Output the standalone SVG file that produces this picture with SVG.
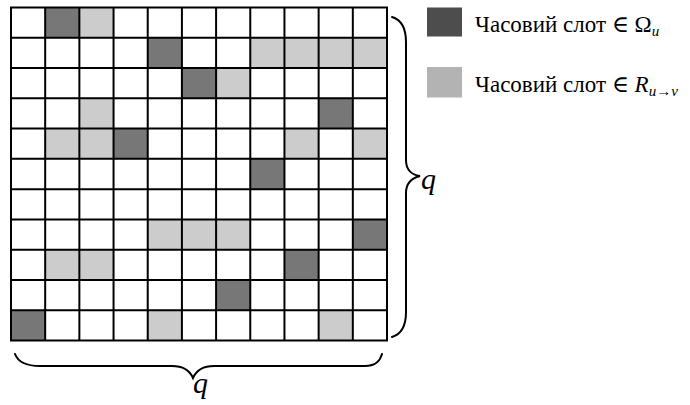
<svg xmlns="http://www.w3.org/2000/svg" width="690" height="405" viewBox="0 0 690 405">
<style>
  .d{fill:#777777}
  .l{fill:#cccccc}
  .grid{fill:none;stroke:#000;stroke-width:2}
  .brace{fill:none;stroke:#000;stroke-width:2;stroke-linecap:round}
  .t{font-family:'Liberation Serif','DejaVu Serif',serif;font-size:23px;fill:#000}
  .q{font-family:'Liberation Serif','DejaVu Serif',serif;font-size:30px;font-style:italic;fill:#000}
  .sub{font-size:15px;font-style:italic}
</style>
<rect width="690" height="405" fill="#fff"/>
<g id="grid">
  <g id="cells">
    <rect class="d" x="45.18" y="7.5" width="34.18" height="30.27"/>
    <rect class="l" x="79.36" y="7.5" width="34.18" height="30.27"/>
    <rect class="d" x="147.73" y="37.77" width="34.18" height="30.27"/>
    <rect class="l" x="250.27" y="37.77" width="136.73" height="30.27"/>
    <rect class="d" x="181.91" y="68.05" width="34.18" height="30.27"/>
    <rect class="l" x="216.09" y="68.05" width="34.18" height="30.27"/>
    <rect class="l" x="79.36" y="98.32" width="34.18" height="30.27"/>
    <rect class="d" x="318.64" y="98.32" width="34.18" height="30.27"/>
    <rect class="l" x="45.18" y="128.59" width="68.36" height="30.27"/>
    <rect class="d" x="113.55" y="128.59" width="34.18" height="30.27"/>
    <rect class="l" x="284.45" y="128.59" width="34.18" height="30.27"/>
    <rect class="l" x="352.82" y="128.59" width="34.18" height="30.27"/>
    <rect class="d" x="250.27" y="158.86" width="34.18" height="30.27"/>
    <rect class="l" x="147.73" y="219.41" width="102.54" height="30.27"/>
    <rect class="d" x="352.82" y="219.41" width="34.18" height="30.27"/>
    <rect class="l" x="45.18" y="249.68" width="68.36" height="30.27"/>
    <rect class="d" x="284.45" y="249.68" width="34.18" height="30.27"/>
    <rect class="d" x="216.09" y="279.95" width="34.18" height="30.27"/>
    <rect class="d" x="11" y="310.23" width="34.18" height="30.27"/>
    <rect class="l" x="147.73" y="310.23" width="34.18" height="30.27"/>
    <rect class="l" x="318.64" y="310.23" width="34.18" height="30.27"/>
  </g>
  <path class="grid" d="M11,7.5H387V340.5H11Z
    M45.18,7.5V340.5 M79.36,7.5V340.5 M113.55,7.5V340.5 M147.73,7.5V340.5 M181.91,7.5V340.5
    M216.09,7.5V340.5 M250.27,7.5V340.5 M284.45,7.5V340.5 M318.64,7.5V340.5 M352.82,7.5V340.5
    M11,37.77H387 M11,68.05H387 M11,98.32H387 M11,128.59H387 M11,158.86H387
    M11,189.14H387 M11,219.41H387 M11,249.68H387 M11,279.95H387 M11,310.23H387"/>
</g>
<g id="brace-right">
  <path class="brace" d="M392,17 C402,20 406,28 406,42 V160 C406,170 412,175 420,176 C412,178 406,183 406,193 V312 C406,326 402,334 392,337"/>
  <text class="q" x="421" y="189">q</text>
</g>
<g id="brace-bottom">
  <path class="brace" d="M15,354 C18,362 26,366 40,366 H172 C184,366 190,371 193,378 C196,371 202,366 214,366 H365 C376,366 380,361 382,354"/>
  <text class="q" x="193" y="393">q</text>
</g>
<g id="legend-omega">
  <rect x="427" y="7.5" width="35" height="29" fill="#4d4d4d"/>
  <text class="t" x="475" y="32">Часовий слот ∈ Ω<tspan class="sub" dy="4">u</tspan></text>
</g>
<g id="legend-r">
  <rect x="427" y="67" width="35" height="30.5" fill="#b3b3b3"/>
  <text class="t" x="475" y="91.5">Часовий слот ∈ <tspan font-style="italic">R</tspan><tspan class="sub" dy="4">u→v</tspan></text>
</g>
</svg>
